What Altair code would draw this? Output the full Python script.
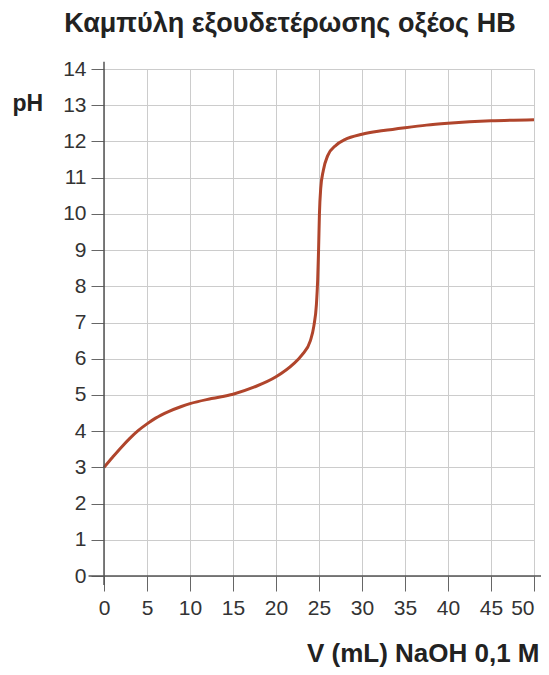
import altair as alt
import pandas as pd

# Titration curve
volume = [0, 1, 2, 3, 4, 5, 6, 7.5, 9, 10, 12.5, 15, 17.5, 20, 22, 23, 24, 24.4, 24.7, 24.85, 24.95, 25.05, 25.2, 25.5, 26, 27, 28, 30, 32.5, 35, 37.5, 40, 45, 50]
ph = [3.0, 3.28, 3.55, 3.8, 4.02, 4.2, 4.36, 4.54, 4.68, 4.76, 4.9, 5.02, 5.22, 5.5, 5.85, 6.1, 6.5, 6.9, 7.5, 8.2, 9.0, 10.0, 10.7, 11.2, 11.6, 11.9, 12.05, 12.2, 12.3, 12.38, 12.45, 12.5, 12.57, 12.6]

x_ticks = [0, 5, 10, 15, 20, 25, 30, 35, 40, 45, 50]
y_ticks = list(range(0, 15))

# axis lines (data units)
x_axis_line = {"x": [-1.8], "x2": [51.0], "y": [0]}
y_axis_line = {"y": [-0.25], "y2": [14.2], "x": [0]}

title_text = "Καμπύλη εξουδετέρωσης οξέος HB"
x_title = "V (mL) NaOH 0,1 M"
y_title = "pH"

FONT = "Liberation Sans"

df = pd.DataFrame({"V": volume, "pH": ph})

xscale = alt.Scale(domain=[0, 50], nice=False, zero=False)
yscale = alt.Scale(domain=[0, 14], nice=False, zero=False)

x_axis = alt.Axis(
    values=x_ticks, grid=True, gridColor="#cccccc", domain=False,
    tickSize=15, tickColor="#666666", labelFontSize=21, labelColor="#333333",
    labelPadding=6, labelFont=FONT, labelOverlap=False, labelFlush=False,
    labelAlign={"condition": {"test": "datum.value >= 50", "value": "right"}, "value": "center"},
    title=x_title, titleFont=FONT, titleFontSize=26, titleFontWeight="bold",
    titleColor="#222222", titleAlign="right", titleAnchor="end",
    titleX=435, titleY=85, titleBaseline="alphabetic")
y_axis = alt.Axis(
    values=y_ticks, grid=True, gridColor="#cccccc", domain=False,
    tickSize=13, tickColor="#666666", labelFontSize=21, labelColor="#333333",
    labelPadding=5, labelFont=FONT, labelOverlap=False,
    title=y_title, titleFont=FONT, titleFontSize=23, titleFontWeight="bold",
    titleColor="#222222", titleAngle=0, titleAlign="left",
    titleBaseline="middle", titleX=-92, titleY=34)

line = alt.Chart(df).mark_line(
    color="#b0452c", strokeWidth=3, interpolate="monotone"
).encode(
    x=alt.X("V:Q", scale=xscale, axis=x_axis),
    y=alt.Y("pH:Q", scale=yscale, axis=y_axis),
)

xa = alt.Chart(pd.DataFrame(x_axis_line)).mark_rule(color="#555555", strokeWidth=1.5).encode(
    x=alt.X("x:Q", scale=xscale, axis=x_axis), x2="x2:Q",
    y=alt.Y("y:Q", scale=yscale, axis=y_axis))
ya = alt.Chart(pd.DataFrame(y_axis_line)).mark_rule(color="#555555", strokeWidth=1.5).encode(
    y=alt.Y("y:Q", scale=yscale, axis=y_axis), y2="y2:Q",
    x=alt.X("x:Q", scale=xscale, axis=x_axis))

chart = alt.layer(line, xa, ya).properties(
    width=430, height=507,
    title=alt.TitleParams(title_text, font=FONT, fontSize=27, fontWeight="bold",
                          color="#222222", anchor="middle", dx=-29, offset=20),
    autosize=alt.AutoSizeParams(type="none"),
    padding={"left": 96, "top": 61, "right": 7, "bottom": 91},
).configure(background="white", view=alt.ViewConfig(stroke=None))

chart.save("out.html", embed_options={"renderer": "svg", "actions": False})
